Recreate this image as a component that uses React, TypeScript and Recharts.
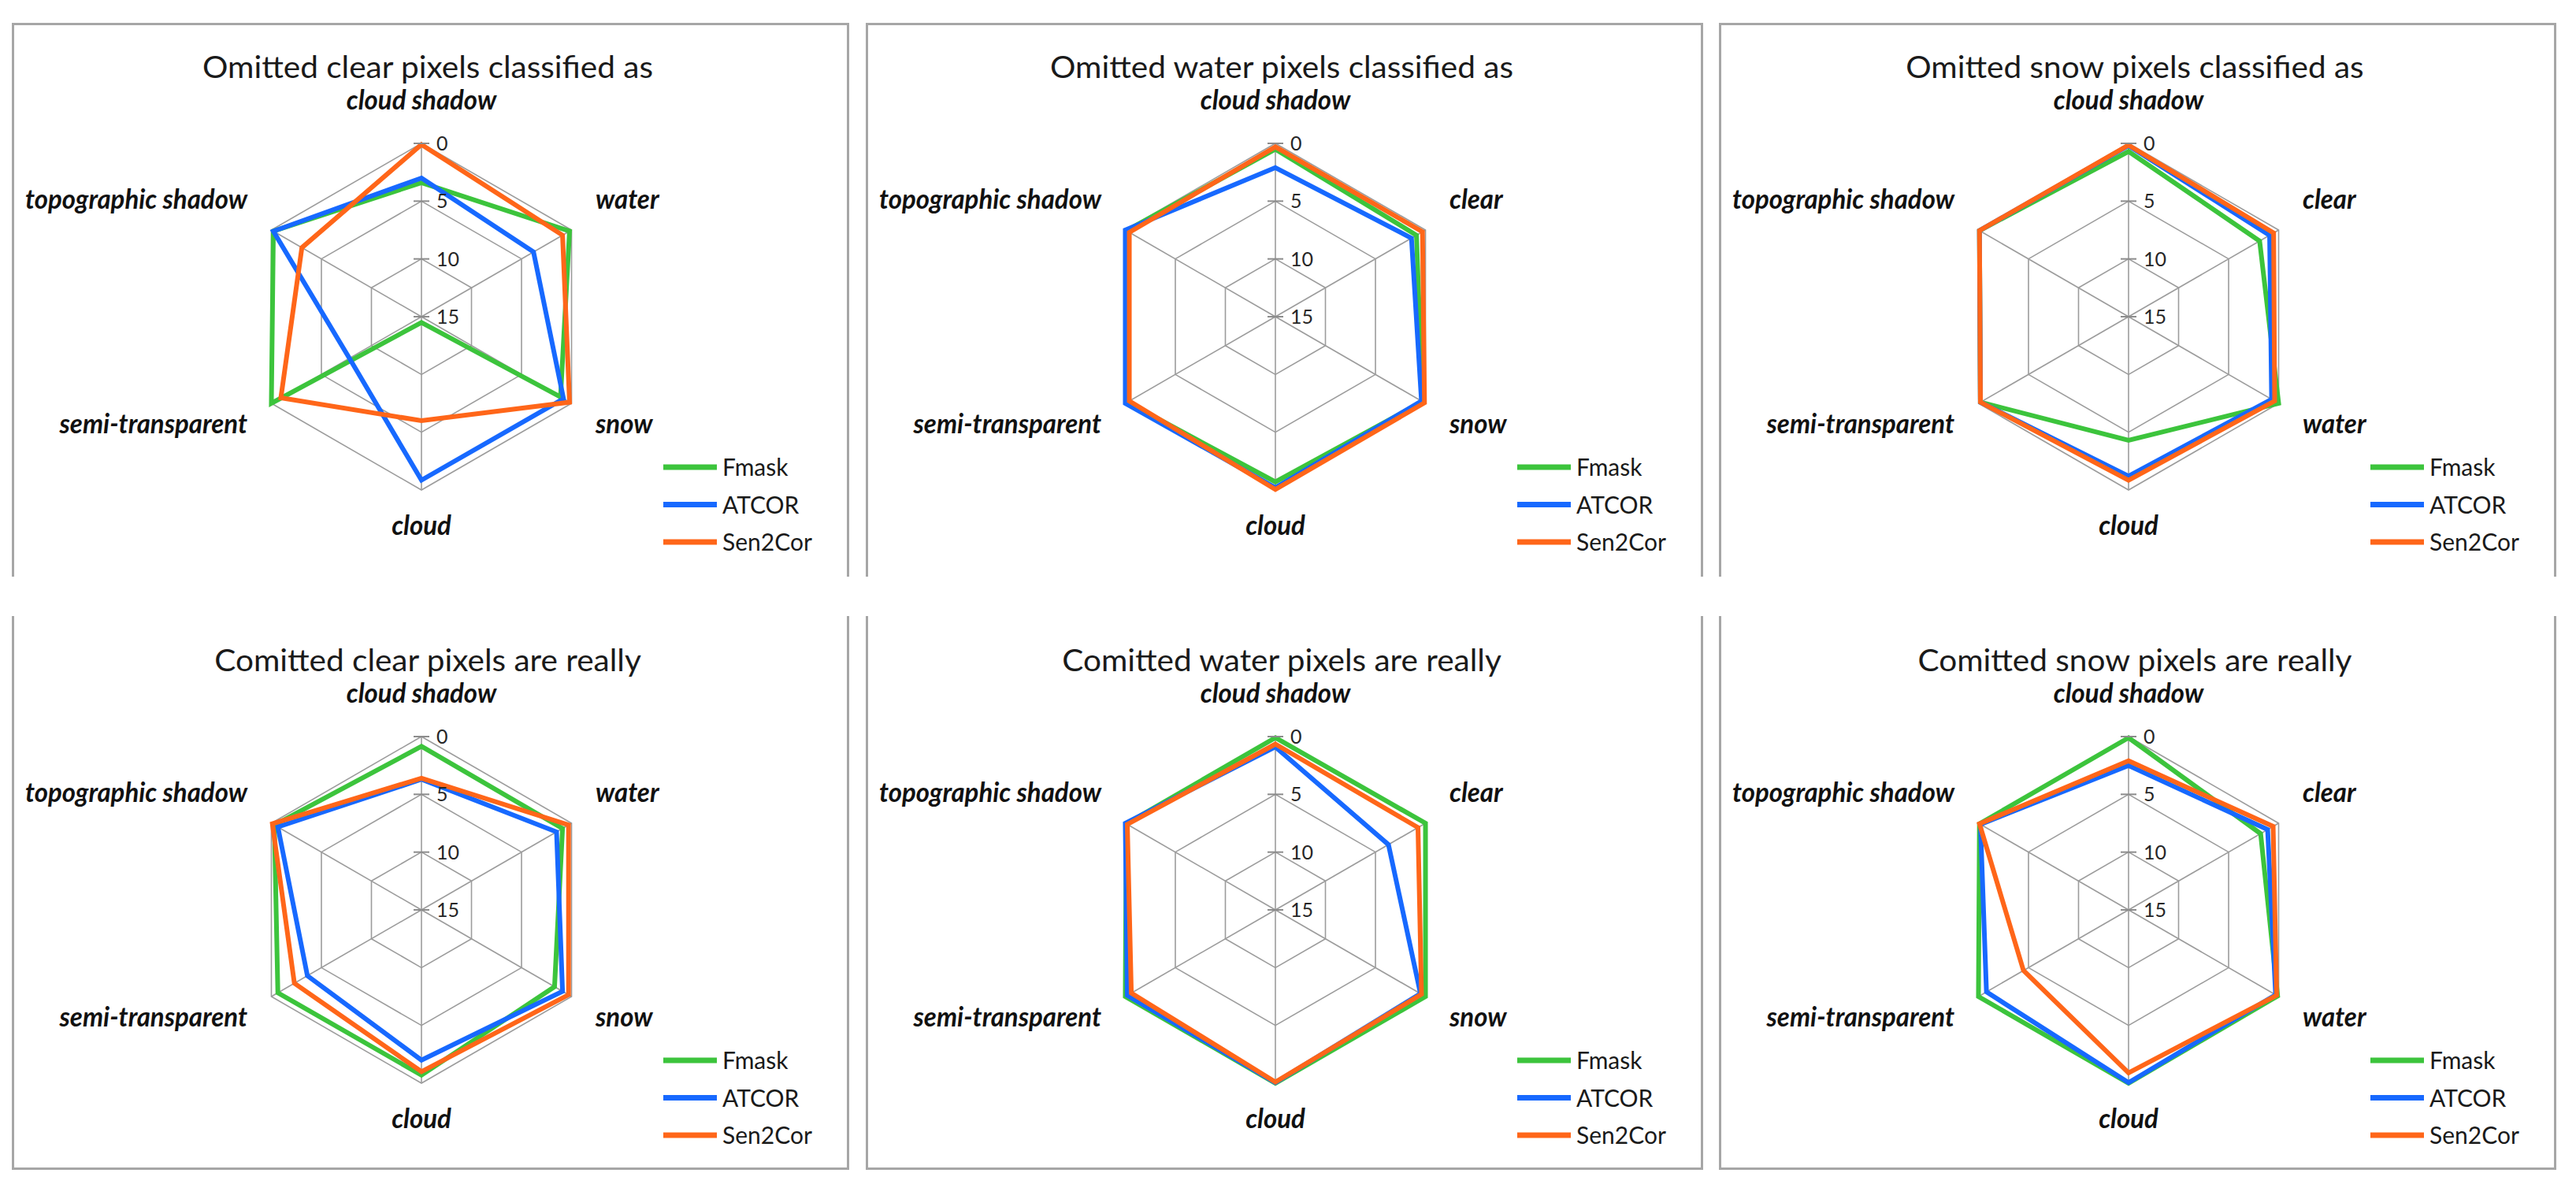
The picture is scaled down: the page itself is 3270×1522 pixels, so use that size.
import React from "react";
import { RadarChart, Radar, PolarGrid, PolarAngleAxis, PolarRadiusAxis } from "recharts";

const SERIES = ["Fmask", "ATCOR", "Sen2Cor"];
const SERIES_COLORS = ["#3cc43c", "#1769ff", "#ff6619"];
const RADIAL_TICKS = [0, 5, 10, 15];

const TITLES = [
  "Omitted clear pixels classified as",
  "Omitted water pixels classified as",
  "Omitted snow pixels classified as",
  "Comitted clear pixels are really",
  "Comitted water pixels are really",
  "Comitted snow pixels are really",
];

// classes, clockwise from the top
const CLEAR_CLASSES = ["cloud shadow", "water", "snow", "cloud", "semi-transparent", "topographic shadow"];
const WATER_CLASSES = ["cloud shadow", "clear", "snow", "cloud", "semi-transparent", "topographic shadow"];
const SNOW_CLASSES = ["cloud shadow", "clear", "water", "cloud", "semi-transparent", "topographic shadow"];

// omitted clear
const OMIT_CLEAR_FMASK = [3.4, 0.2, 1.1, 14.5, 0, 0.2];
const OMIT_CLEAR_ATCOR = [3.0, 3.8, 0.8, 0.85, 7.8, 0.2];
const OMIT_CLEAR_SEN2COR = [0.1, 0.9, 0.2, 6.0, 0.95, 3.05];
// omitted water
const OMIT_WATER_FMASK = [0.5, 0.9, 0.3, 0.7, 0.2, 0.1];
const OMIT_WATER_ATCOR = [2.1, 1.4, 0.4, 0.2, 0.0, 0.0];
const OMIT_WATER_SEN2COR = [0.3, 0.3, 0.1, 0.05, 0.4, 0.4];
// omitted snow
const OMIT_SNOW_FMASK = [0.7, 1.9, 0.0, 4.3, 0.2, 0.1];
const OMIT_SNOW_ATCOR = [0.2, 0.9, 0.7, 1.2, 0.2, 0.1];
const OMIT_SNOW_SEN2COR = [0.15, 0.5, 0.4, 0.85, 0.2, 0.1];
// committed clear
const COMMIT_CLEAR_FMASK = [0.85, 0.9, 1.7, 0.7, 0.65, 0.3];
const COMMIT_CLEAR_ATCOR = [3.7, 1.5, 0.9, 2.0, 3.6, 0.65];
const COMMIT_CLEAR_SEN2COR = [3.6, 0.3, 0.3, 1.0, 2.3, 0.1];
// committed water
const COMMIT_WATER_FMASK = [0.1, 0.0, 0.0, 0.0, 0.0, 0.1];
const COMMIT_WATER_ATCOR = [0.9, 3.7, 0.5, 0.05, 0.2, 0.0];
const COMMIT_WATER_SEN2COR = [0.65, 0.75, 0.4, 0.1, 0.6, 0.2];
// committed snow
const COMMIT_SNOW_FMASK = [0.1, 1.8, 0.1, 0.0, 0.0, 0.1];
const COMMIT_SNOW_ATCOR = [2.5, 1.1, 0.3, 0.05, 0.8, 0.2];
const COMMIT_SNOW_SEN2COR = [2.1, 0.55, 0.2, 0.9, 4.5, 0.1];

const PANELS = [
  { title: TITLES[0], classes: CLEAR_CLASSES, values: [OMIT_CLEAR_FMASK, OMIT_CLEAR_ATCOR, OMIT_CLEAR_SEN2COR] },
  { title: TITLES[1], classes: WATER_CLASSES, values: [OMIT_WATER_FMASK, OMIT_WATER_ATCOR, OMIT_WATER_SEN2COR] },
  { title: TITLES[2], classes: SNOW_CLASSES, values: [OMIT_SNOW_FMASK, OMIT_SNOW_ATCOR, OMIT_SNOW_SEN2COR] },
  { title: TITLES[3], classes: CLEAR_CLASSES, values: [COMMIT_CLEAR_FMASK, COMMIT_CLEAR_ATCOR, COMMIT_CLEAR_SEN2COR] },
  { title: TITLES[4], classes: WATER_CLASSES, values: [COMMIT_WATER_FMASK, COMMIT_WATER_ATCOR, COMMIT_WATER_SEN2COR] },
  { title: TITLES[5], classes: SNOW_CLASSES, values: [COMMIT_SNOW_FMASK, COMMIT_SNOW_ATCOR, COMMIT_SNOW_SEN2COR] },
];

const FONT = "Lato, 'Open Sans', sans-serif";
const W = 1063;
const H = 703;
const CX = 520;
const CY = 373;
const R = 220;
const LEFTS = [15, 1099, 2182];
const TOPS = [29, 782];
const BORDER = "3px solid #a6a6a6";
const GRID = "#9c9c9c";

function AngleTick(props: any) {
  const { payload } = props;
  const a = (payload.coordinate * Math.PI) / 180;
  const c = Math.cos(a);
  const s = Math.sin(a);
  let x = CX;
  let y = 0;
  let anchor = "middle";
  if (Math.abs(c) < 0.1) {
    y = s > 0 ? CY - 263 : CY + 277;
  } else {
    anchor = c > 0 ? "start" : "end";
    x = c > 0 ? CX + 221 : CX - 221;
    y = s > 0 ? CY - 137 : CY + 148;
  }
  return (
    <text
      transform={`translate(${x},${y}) scale(0.97,1)`}
      textAnchor={anchor}
      fontFamily={FONT}
      fontSize={34}
      fontWeight={700}
      fontStyle="italic"
      fill="#111"
    >
      {payload.value}
    </text>
  );
}

function RadiusTick({ x, y, payload }: any) {
  return (
    <g>
      <line x1={x - 10} x2={x + 10} y1={y} y2={y} stroke="#8c8c8c" strokeWidth={2} />
      <text x={x + 19} y={y} dy="0.36em" fontFamily={FONT} fontSize={25} fill="#262626">
        {payload.value}
      </text>
    </g>
  );
}

function Panel({ idx }: { idx: number }) {
  const p = PANELS[idx];
  const row = Math.floor(idx / 3);
  const col = idx % 3;
  const data = p.classes.map((name, i) => {
    const d: any = { name };
    SERIES.forEach((s, k) => (d[s] = p.values[k][i]));
    return d;
  });

  return (
    <div style={{ position: "absolute", left: LEFTS[col], top: TOPS[row], width: W, height: H }}>
      <div
        style={{
          position: "absolute",
          inset: 0,
          boxSizing: "border-box",
          borderLeft: BORDER,
          borderRight: BORDER,
          borderTop: row === 0 ? BORDER : "none",
          borderBottom: row === 1 ? BORDER : "none",
        }}
      />
      <div style={{ position: "absolute", left: 0, top: 0 }}>
        <RadarChart
          width={W}
          height={H}
          cx={CX}
          cy={CY}
          outerRadius={R}
          data={data}
          margin={{ top: 0, right: 0, bottom: 0, left: 0 }}
        >
          <PolarGrid gridType="polygon" stroke={GRID} strokeWidth={1.6} />
          <PolarAngleAxis dataKey="name" axisLine={false} tickLine={false} tick={AngleTick} />
          <PolarRadiusAxis
            angle={90}
            domain={[0, 15]}
            ticks={RADIAL_TICKS}
            tickCount={4}
            reversed
            axisLine={false}
            tick={RadiusTick}
          />
          {SERIES.map((s, k) => (
            <Radar
              key={s}
              dataKey={s}
              stroke={SERIES_COLORS[k]}
              strokeWidth={6}
              fill="none"
              fillOpacity={0}
              dot={false}
              isAnimationActive={false}
            />
          ))}
        </RadarChart>
      </div>
      <svg
        width={W}
        height={H}
        style={{ position: "absolute", left: 0, top: 0, pointerEvents: "none" }}
      >
        <text
          transform={`translate(528,70) scale(1.04,1)`}
          textAnchor="middle"
          fontFamily={FONT}
          fontSize={39}
          fill="#1a1a1a"
        >
          {p.title}
        </text>
        {SERIES.map((s, k) => (
          <g key={s}>
            <line x1={827} x2={895} y1={564 + k * 47.5} y2={564 + k * 47.5} stroke={SERIES_COLORS[k]} strokeWidth={7} />
            <text x={902} y={575 + k * 47.5} fontFamily={FONT} fontSize={30} fill="#1a1a1a">
              {s}
            </text>
          </g>
        ))}
      </svg>
    </div>
  );
}

export default function App() {
  return (
    <div style={{ position: "absolute", left: 0, top: 0, width: 3270, height: 1522, background: "#fff" }}>
      {PANELS.map((_, i) => (
        <Panel key={i} idx={i} />
      ))}
    </div>
  );
}
